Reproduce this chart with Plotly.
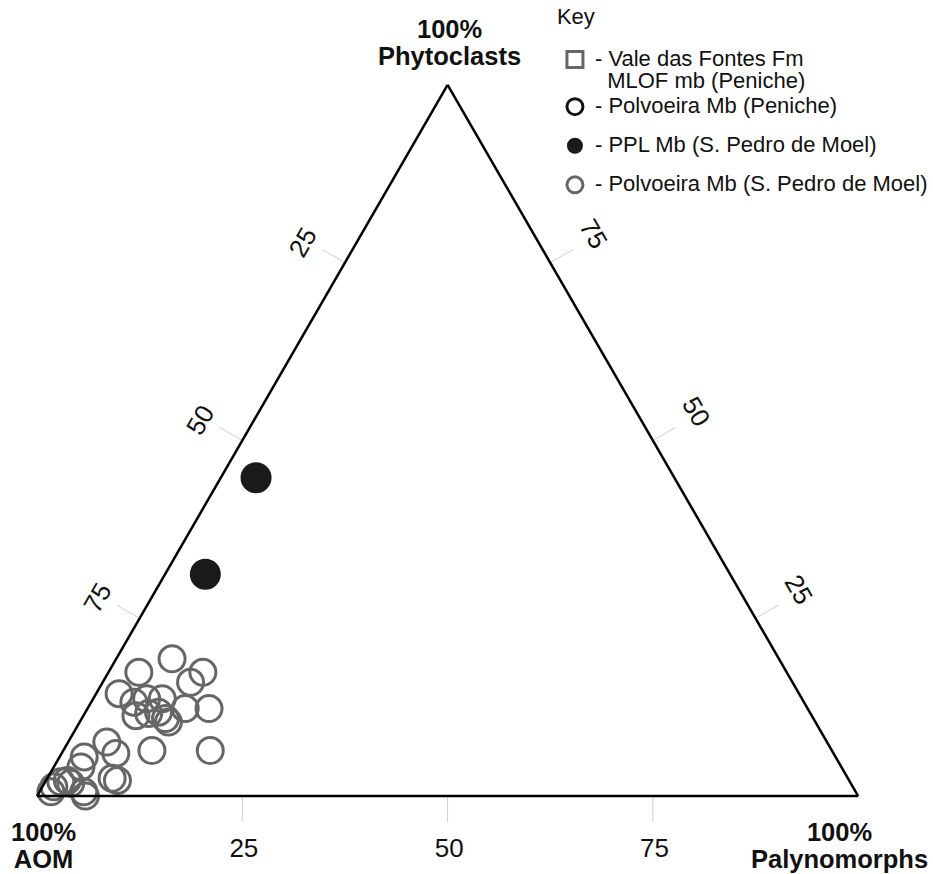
import plotly.graph_objects as go

# Kerogen composition (%): Phytoclasts (a), AOM (b), Palynomorphs (c)
ppl_phyto = [44.8, 31.2]
ppl_aom = [51.0, 63.9]
ppl_palyno = [4.3, 4.9]

pol_spm_phyto = [19.3, 17.4, 17.4, 16.0, 14.4, 13.2, 13.7, 13.7, 12.3, 12.3,
                 11.3, 11.8, 10.9, 10.4, 11.6, 6.4, 6.4, 7.6, 6.0, 5.5,
                 4.1, 2.5, 2.2, 2.0, 1.8, 1.3, 0.6, 0.6, 0.0, 2.2]
pol_spm_aom = [73.9, 78.9, 71.1, 73.3, 82.8, 81.6, 79.8, 77.9, 75.8, 72.9,
               82.3, 79.3, 78.9, 78.8, 80.6, 75.7, 82.8, 87.7, 87.4, 91.5,
               92.6, 89.6, 89.1, 96.1, 95.0, 97.3, 98.0, 94.0, 94.1, 95.2]
pol_spm_palyno = [6.8, 3.7, 11.5, 10.7, 2.8, 5.2, 6.5, 8.4, 11.9, 14.8,
                  6.4, 8.9, 10.2, 10.8, 7.8, 17.9, 10.8, 4.7, 6.6, 3.0,
                  3.3, 7.9, 8.7, 1.9, 3.2, 1.4, 1.4, 5.4, 5.9, 2.6]

# Edge labels: each side carries the percentage of the component that grows along it
tick_pos = [25, 50, 75]
tick_txt_desc = ["75", "50", "25"]
tick_txt_asc = ["25", "50", "75"]

font_family = "Arial, Liberation Sans, sans-serif"
grey = "#666666"
ink = "#111111"
tick_grey = "#cfcfcf"
TICK_PX = 25       # outward tick length in pixels
NB = "\u00a0"      # non-breaking space, nudges tick labels along their baseline

fig = go.Figure()


def legend_label(text):
    return "<span style='font-size:22px'>" + text + "</span>"


fig.add_trace(go.Scatterternary(
    a=[None], b=[None], c=[None], mode="markers",
    name=legend_label("- Vale das Fontes Fm") + "<br>" + legend_label("  MLOF mb (Peniche)"),
    legendgroup="peniche",
    marker=dict(symbol="square-open", size=20, color=grey, line=dict(width=3)),
))
fig.add_trace(go.Scatterternary(
    a=[None], b=[None], c=[None], mode="markers",
    name=legend_label("- Polvoeira Mb (Peniche)"),
    legendgroup="peniche",
    marker=dict(symbol="circle-open", size=22, color=ink, line=dict(width=3)),
))
fig.add_trace(go.Scatterternary(
    a=ppl_phyto, b=ppl_aom, c=ppl_palyno, mode="markers",
    name=legend_label("- PPL Mb (S. Pedro de Moel)"),
    legendgroup="ppl", cliponaxis=False,
    marker=dict(symbol="circle", size=31, color="#1a1a1a"),
))
fig.add_trace(go.Scatterternary(
    a=pol_spm_phyto, b=pol_spm_aom, c=pol_spm_palyno, mode="markers",
    name=legend_label("- Polvoeira Mb (S. Pedro de Moel)"),
    legendgroup="spm", cliponaxis=False,
    marker=dict(symbol="circle-open", size=26, color=grey, line=dict(width=3)),
))

# Perpendicular tick marks: line markers anchored on each edge at the tick
# value; the standoff pushes each one away from the triangle (opposite to angle)
ta, tb, tc, tang = [], [], [], []
for v in tick_pos:
    ta.append(0); tc.append(v); tb.append(100 - v); tang.append(0)      # bottom edge
    ta.append(v); tc.append(0); tb.append(100 - v); tang.append(120)    # left edge
    ta.append(v); tb.append(0); tc.append(100 - v); tang.append(-120)   # right edge
fig.add_trace(go.Scatterternary(
    a=ta, b=tb, c=tc, mode="markers", cliponaxis=False,
    marker=dict(symbol="line-ns", size=TICK_PX / 1.4, angle=tang,
                standoff=TICK_PX / 2 + 1, color=tick_grey,
                line=dict(color=tick_grey, width=1)),
    showlegend=False, hoverinfo="skip",
))

axis_common = dict(
    showgrid=False,
    linecolor="black",
    linewidth=2.5,
    ticks="outside",
    tickcolor="rgba(0,0,0,0)",
    tickwidth=1,
    tickfont=dict(family=font_family, size=26, color=ink),
    min=0,
    tickmode="array",
    title=dict(text=""),
)


def vertex_title(label):
    return ("<b><span style='font-size:25.5px'>100%</span><br>"
            "<span style='font-size:25.5px'>" + label + "</span></b>")


title_font = dict(family=font_family, size=20.5, color=ink)

fig.update_layout(
    width=933, height=874,
    margin=dict(l=0, r=0, t=0, b=0),
    paper_bgcolor="white",
    plot_bgcolor="white",
    font=dict(family=font_family, color=ink),
    ternary=dict(
        sum=100,
        bgcolor="white",
        domain=dict(x=[0.03987, 0.92475], y=[0.0870, 0.9050]),
        aaxis=dict(axis_common, tickvals=tick_pos,
                   ticktext=[NB * 2 + t for t in tick_txt_desc],
                   tickangle=-60, ticklen=29),
        baxis=dict(axis_common, tickvals=tick_pos[::-1],
                   ticktext=[t + NB * 4 for t in tick_txt_asc],
                   tickangle=0, ticklen=32),
        caxis=dict(axis_common, tickvals=tick_pos,
                   ticktext=[NB * 5 + t for t in tick_txt_desc],
                   tickangle=60, ticklen=35),
    ),
    annotations=[
        dict(text=vertex_title("Phytoclasts"), x=0.4845, y=0.9514,
             xref="paper", yref="paper", xanchor="center", yanchor="middle",
             showarrow=False, font=title_font),
        dict(text=vertex_title("AOM"), x=0.0472, y=0.0326,
             xref="paper", yref="paper", xanchor="center", yanchor="middle",
             showarrow=False, font=title_font),
        dict(text=vertex_title("Palynomorphs"), x=0.9046, y=0.0326,
             xref="paper", yref="paper", xanchor="center", yanchor="middle",
             showarrow=False, font=title_font),
    ],
    legend=dict(
        title=dict(text="<span style='font-size:22px'>Key</span><br> ",
                   font=dict(family=font_family, size=14, color=ink)),
        font=dict(family=font_family, size=17, color=ink),
        x=0.598, y=0.9937, xanchor="left", yanchor="top",
        bgcolor="rgba(0,0,0,0)",
        tracegroupgap=14,
        itemwidth=30,
        valign="top",
    ),
)

fig.write_html("out.html")
